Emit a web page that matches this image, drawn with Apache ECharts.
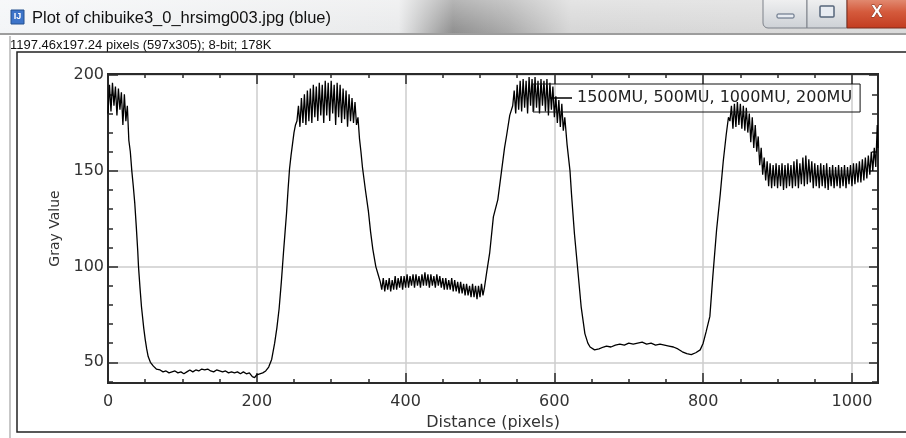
<!DOCTYPE html>
<html>
<head>
<meta charset="utf-8">
<script src="https://cdn.jsdelivr.net/npm/echarts@6/dist/echarts.min.js"></script>
<style>
  * { margin: 0; padding: 0; }
  body { background: #fff; }
  #chart-container { position: relative; width: 906px; height: 438px; overflow: hidden; }
</style>
</head>
<body>
<div id="chart-container"></div>
<script>
// profile values (distance in pixels, gray value)
var distance = [
  0, 2, 4, 6, 8, 10, 12, 14, 16, 18, 20, 22, 24, 26, 28, 30,
  32, 34, 36, 38, 40, 41, 43, 45, 48, 50, 52, 54, 57, 61, 65, 70,
  74, 78, 82, 86, 90, 94, 98, 102, 106, 110, 114, 118, 122, 126, 130, 134,
  138, 142, 146, 150, 154, 158, 162, 166, 170, 174, 178, 182, 186, 190, 194, 197,
  200, 204, 208, 212, 216, 220, 224, 227, 230, 233, 236, 238, 240, 242, 244, 246,
  248, 250, 252, 254, 256, 258, 260, 262, 264, 266, 268, 270, 272, 274, 276, 278,
  280, 282, 284, 286, 288, 290, 292, 294, 296, 298, 300, 302, 304, 306, 308, 310,
  312, 314, 316, 318, 320, 322, 324, 326, 328, 330, 332, 334, 336, 338, 340, 342,
  344, 346, 350, 353, 356, 360, 363, 366, 368, 370, 372, 374, 376, 378, 380, 382,
  384, 386, 388, 390, 392, 394, 396, 398, 400, 402, 404, 406, 408, 410, 412, 414,
  416, 418, 420, 422, 424, 426, 428, 430, 432, 434, 436, 438, 440, 442, 444, 446,
  448, 450, 452, 454, 456, 458, 460, 462, 464, 466, 468, 470, 472, 474, 476, 478,
  480, 482, 484, 486, 488, 490, 492, 494, 496, 498, 500, 502, 504, 506, 509, 513,
  518, 524, 529, 533, 536, 540, 544, 546, 548, 550, 552, 554, 556, 558, 560, 562,
  564, 566, 568, 570, 572, 574, 576, 578, 580, 582, 584, 586, 588, 590, 592, 594,
  596, 598, 600, 602, 604, 606, 608, 610, 612, 614, 617, 621, 623, 627, 632, 636,
  641, 645, 648, 654, 660, 666, 670, 676, 682, 688, 694, 700, 706, 712, 718, 724,
  730, 736, 742, 748, 754, 760, 766, 772, 778, 784, 790, 796, 800, 804, 809, 813,
  818, 823, 827, 831, 834, 836, 838, 840, 842, 844, 846, 848, 850, 852, 854, 856,
  858, 860, 862, 864, 866, 868, 870, 872, 874, 876, 878, 880, 882, 884, 886, 888,
  890, 892, 894, 896, 898, 900, 902, 904, 906, 908, 910, 912, 914, 916, 918, 920,
  922, 924, 926, 928, 930, 932, 934, 936, 938, 940, 942, 944, 946, 948, 950, 952,
  954, 956, 958, 960, 962, 964, 966, 968, 970, 972, 974, 976, 978, 980, 982, 984,
  986, 988, 990, 992, 994, 996, 998, 1000, 1002, 1004, 1006, 1008, 1010, 1012, 1014, 1016,
  1018, 1020, 1022, 1024, 1026, 1028, 1030, 1032, 1034, 1035
]
var grayValue = [
  180, 195, 181, 196, 184, 194, 179, 193, 182, 191, 174, 190, 176, 184, 166, 160,
  150, 142, 133, 121, 108, 100, 89, 79, 68, 62, 57, 53, 50, 48, 46.5, 46,
  45, 45.5, 44.5, 45, 45.5, 44.5, 45, 44, 45, 46, 45, 46, 45.5, 46.5, 46, 46.5,
  45.5, 45, 46, 45.5, 45, 45.5, 44.5, 45, 44.5, 45, 44, 45, 44, 44.5, 42.5, 42,
  43.5, 44, 44.5, 45.5, 47.5, 51.5, 60, 68, 78, 92, 108, 118, 128, 140, 151, 158,
  164, 170, 174, 176, 184, 173, 188, 175, 190, 174, 192, 176, 193, 175, 195, 178,
  194, 176, 196, 179, 195, 175, 197, 179, 196, 176, 197, 180, 195, 174, 196, 178,
  195, 175, 193, 177, 192, 173, 190, 176, 188, 175, 186, 174, 178, 167, 160, 152,
  146, 140, 129, 118, 109, 100, 96, 92, 88, 94, 87, 93, 88, 94, 87, 93,
  88, 95, 88, 94, 89, 95, 88, 95, 89, 96, 89, 95, 90, 96, 89, 96,
  90, 95, 89, 96, 90, 97, 90, 96, 89, 96, 90, 95, 89, 96, 90, 95,
  89, 94, 88, 94, 88, 93, 88, 94, 87, 93, 87, 92, 86, 92, 86, 91,
  85, 91, 85, 90, 84, 91, 84, 90, 83, 90, 84, 91, 85, 89, 97, 107,
  126, 135, 150, 162, 169, 179, 184, 192, 180, 195, 182, 197, 181, 198, 183, 197,
  180, 199, 184, 198, 181, 199, 183, 197, 180, 198, 184, 197, 181, 198, 179, 196,
  182, 194, 178, 189, 175, 187, 173, 185, 171, 178, 164, 150, 138, 117, 96, 79,
  65, 60, 58, 56.5, 57, 58, 58.5, 58, 59, 59.5, 59, 60, 59.5, 60, 60.5, 59.5,
  60, 59, 59.5, 59, 58.5, 58, 57, 55.5, 54.5, 54, 55, 56.5, 60, 66, 74, 95,
  119, 138, 155, 169, 178, 176, 184, 172, 185, 173, 186, 174, 185, 172, 184, 171,
  183, 170, 180, 165, 178, 162, 174, 160, 168, 153, 162, 148, 157, 145, 155, 142,
  154, 141, 153, 142, 154, 141, 153, 142, 154, 140, 153, 141, 154, 142, 153, 141,
  155, 142, 156, 141, 154, 143, 157, 142, 158, 143, 156, 144, 155, 141, 154, 142,
  153, 141, 154, 142, 153, 141, 154, 140, 152, 142, 153, 141, 152, 142, 153, 141,
  152, 142, 153, 141, 152, 143, 153, 142, 154, 143, 154, 144, 155, 144, 156, 145,
  157, 146, 158, 148, 160, 150, 162, 152, 174, 162
]
var xMajorTicks = [0, 200, 400, 600, 800, 1000]
var xMinorTicks = [0, 50, 100, 150, 200, 250, 300, 350, 400, 450, 500, 550, 600, 650, 700, 750, 800, 850, 900, 950, 1000]
var yMajorTicks = [50, 100, 150, 200]
var yMinorTicks = [40, 50, 60, 70, 80, 90, 100, 110, 120, 130, 140, 150, 160, 170, 180, 190, 200]
var seriesName = '1500MU, 500MU, 1000MU, 200MU'

var frameColor = '#2a2a2a'
var labelFont = 'DejaVu Sans'

function xAxisOf(position, ticks, tickLen, labels) {
  return {
    type: 'value',
    position: position,
    min: 0,
    max: 1035,
    axisLine: { show: true, onZero: false, lineStyle: { color: frameColor, width: 2 } },
    axisTick: { show: true, inside: true, length: tickLen, customValues: ticks, lineStyle: { color: frameColor, width: 1.5 } },
    axisLabel: {
      show: labels, customValues: xMajorTicks, margin: 11, color: '#333', fontFamily: labelFont, fontSize: 16,
      formatter: function (v) { return String(v) },
    },
    splitLine: { show: false },
  }
}
function yAxisOf(position, ticks, tickLen, labels) {
  return {
    type: 'value',
    position: position,
    min: 39.2,
    max: 200.6,
    axisLine: { show: true, onZero: false, lineStyle: { color: frameColor, width: 2 } },
    axisTick: { show: true, inside: true, length: tickLen, customValues: ticks, lineStyle: { color: frameColor, width: 1.5 } },
    axisLabel: {
      show: labels, customValues: yMajorTicks, margin: 4, color: '#333', fontFamily: labelFont, fontSize: 16,
      formatter: function (v) { return String(v) },
    },
    splitLine: { show: false },
  }
}

var xBottom = xAxisOf('bottom', xMajorTicks, 10, true)
xBottom.name = 'Distance (pixels)'
xBottom.nameLocation = 'middle'
xBottom.nameGap = 32
xBottom.nameTextStyle = { fontFamily: labelFont, fontSize: 16, color: '#333' }
xBottom.splitLine = { show: true, lineStyle: { color: '#cdcdcd', width: 1.5 } }

var yLeft = yAxisOf('left', yMajorTicks, 10, true)
yLeft.name = 'Gray Value'
yLeft.nameLocation = 'middle'
yLeft.nameGap = 46
yLeft.nameTextStyle = { fontFamily: labelFont, fontSize: 14, color: '#333' }
yLeft.splitLine = { show: true, lineStyle: { color: '#cdcdcd', width: 1.5 } }

var grad = echarts.graphic.LinearGradient

var chartDom = document.getElementById('chart-container')
var myChart = echarts.init(chartDom, null, { renderer: 'canvas' })
var option = {
  animation: false,
  backgroundColor: '#fff',
  grid: { left: 108, top: 74, width: 770, height: 309 },
  xAxis: [
    xBottom,
    xAxisOf('bottom', xMinorTicks, 4, false),
    xAxisOf('top', xMajorTicks, 10, false),
    xAxisOf('top', xMinorTicks, 4, false),
  ],
  yAxis: [
    yLeft,
    yAxisOf('left', yMinorTicks, 5, false),
    yAxisOf('right', yMajorTicks, 9, false),
    yAxisOf('right', yMinorTicks, 6, false),
  ],
  legend: {
    data: [{ name: seriesName, icon: 'rect' }],
    left: 533,
    top: 84,
    padding: [6, 8, 6, 17],
    itemWidth: 22,
    itemHeight: 1.5,
    borderColor: '#111',
    borderWidth: 1,
    borderRadius: 0,
    backgroundColor: 'transparent',
    selectedMode: false,
    textStyle: { fontFamily: labelFont, fontSize: 16, color: '#222' },
  },
  series: [
    {
      name: seriesName,
      type: 'line',
      xAxisIndex: 0,
      yAxisIndex: 0,
      symbol: 'none',
      lineStyle: { color: '#000', width: 1.3 },
      itemStyle: { color: '#000' },
      data: distance.map(function (d, i) { return [d, grayValue[i]] }),
    },
  ],
  graphic: [
    // window title bar
    { type: 'rect', silent: true, shape: { x: 0, y: 0, width: 906, height: 33 },
      style: { fill: new grad(0, 0, 1, 0, [
        { offset: 0, color: '#f3f5f7' }, { offset: 0.44, color: '#e9eaeb' },
        { offset: 0.5, color: '#8f8f8f' }, { offset: 0.56, color: '#a9a9a9' },
        { offset: 0.63, color: '#d6d6d6' }, { offset: 1, color: '#dadada' } ]) } },
    { type: 'rect', silent: true, shape: { x: 0, y: 0, width: 906, height: 33 },
      style: { fill: new grad(0, 0, 0, 1, [
        { offset: 0, color: 'rgba(255,255,255,0.35)' }, { offset: 1, color: 'rgba(255,255,255,0)' } ]) } },
    // app icon
    { type: 'rect', silent: true, shape: { x: 11, y: 10, width: 13, height: 14 }, style: { fill: '#3d74c9', stroke: '#24508f', lineWidth: 1 } },
    { type: 'text', silent: true, x: 17.5, y: 17, style: { text: 'IJ', fill: '#fff', font: 'bold 9px Liberation Sans', align: 'center', verticalAlign: 'middle' } },
    { type: 'text', silent: true, x: 32, y: 18, style: { text: 'Plot of chibuike3_0_hrsimg003.jpg (blue)', fill: '#111', font: '16.5px Liberation Sans', verticalAlign: 'middle' } },
    // window buttons
    { type: 'rect', silent: true, shape: { x: 763, y: -4, width: 44, height: 32, r: [0, 0, 0, 5] },
      style: { fill: new grad(0, 0, 0, 1, [{ offset: 0, color: '#f4f4f4' }, { offset: 1, color: '#cdd1d6' }]), stroke: '#7c8189', lineWidth: 1 } },
    { type: 'rect', silent: true, shape: { x: 777, y: 14, width: 17, height: 4, r: 1 }, style: { fill: '#e8ecf2', stroke: '#56657b', lineWidth: 1 } },
    { type: 'rect', silent: true, shape: { x: 807, y: -4, width: 40, height: 32 },
      style: { fill: new grad(0, 0, 0, 1, [{ offset: 0, color: '#f4f4f4' }, { offset: 1, color: '#cdd1d6' }]), stroke: '#7c8189', lineWidth: 1 } },
    { type: 'rect', silent: true, shape: { x: 820, y: 6, width: 14, height: 11, r: 1 }, style: { fill: '#e8ecf2', stroke: '#56657b', lineWidth: 1.5 } },
    { type: 'rect', silent: true, shape: { x: 847, y: -4, width: 62, height: 32 },
      style: { fill: new grad(0, 0, 0, 1, [{ offset: 0, color: '#e69a82' }, { offset: 0.5, color: '#d45a3c' }, { offset: 1, color: '#c23b1f' }]), stroke: '#7a2a1a', lineWidth: 1 } },
    { type: 'text', silent: true, x: 877, y: 12, style: { text: 'X', fill: '#fff', stroke: '#7a3020', lineWidth: 0.8, font: 'bold 17px Liberation Sans', align: 'center', verticalAlign: 'middle' } },
    // image info row
    { type: 'line', silent: true, shape: { x1: 0, y1: 34, x2: 906, y2: 34 }, style: { stroke: '#9d9d9d', lineWidth: 2 } },
    { type: 'text', silent: true, x: 10, y: 45, style: { text: '1197.46x197.24 pixels (597x305); 8-bit; 178K', fill: '#111', font: '13px "Liberation Sans Narrow", "Liberation Sans"', verticalAlign: 'middle' } },
    // image frame
    { type: 'line', silent: true, shape: { x1: 10, y1: 36, x2: 10, y2: 438 }, style: { stroke: '#b5b5b5', lineWidth: 1.5 } },
    { type: 'rect', silent: true, shape: { x: 17, y: 52, width: 900, height: 380 }, style: { fill: 'none', stroke: '#222', lineWidth: 1.5 } },
  ],
}
myChart.setOption(option)
window.addEventListener('resize', myChart.resize)
</script>
</body>
</html>
